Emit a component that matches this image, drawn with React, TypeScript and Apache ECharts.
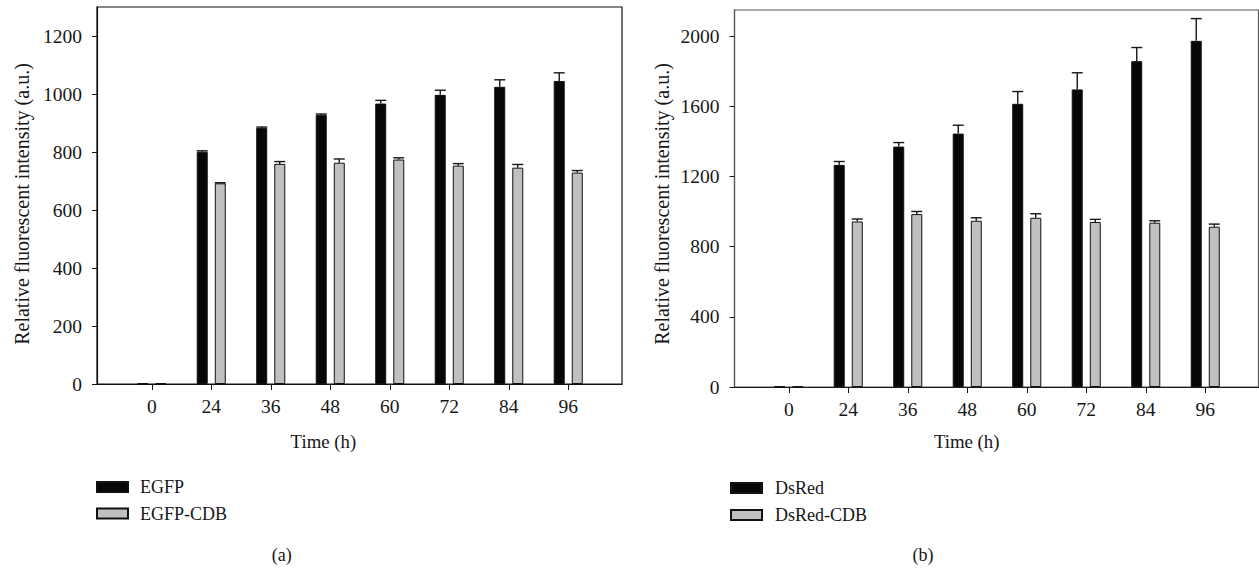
import React, { useEffect, useRef } from "react";
import * as echarts from "echarts";

const categories = ["0", "24", "36", "48", "60", "72", "84", "96"];

const egfp = [3, 801, 883, 928, 967, 997, 1025, 1045];
const egfpErr = [0, 3, 3, 3, 11, 16, 24, 28];
const egfpCdb = [3, 692, 759, 763, 774, 753, 746, 729];
const egfpCdbErr = [0, 2, 8, 13, 6, 7, 11, 7];

const dsred = [3, 1267, 1371, 1445, 1615, 1697, 1858, 1974];
const dsredErr = [0, 19, 23, 48, 70, 95, 78, 127];
const dsredCdb = [3, 944, 986, 948, 965, 941, 937, 914];
const dsredCdbErr = [0, 14, 15, 17, 23, 15, 11, 15];

const seriesNamesA = ["EGFP", "EGFP-CDB"];
const seriesNamesB = ["DsRed", "DsRed-CDB"];
const yTitle = "Relative fluorescent intensity (a.u.)";
const xTitle = "Time (h)";

const FONT = "'Liberation Serif', 'Times New Roman', serif";
const INK = "#161616";
const BLACK = "#070707";
const GRAY = "#c0c0c0";
const TICK_FONT = 19.5;

function errSeries(values: number[], errs: number[], xi: number, offset: number) {
  return {
    type: "custom",
    xAxisIndex: xi,
    yAxisIndex: xi,
    z: 5,
    silent: true,
    encode: { x: 0, y: 1 },
    data: values.map((v, i) => [i, v, errs[i]]),
    renderItem: (params: any, api: any) => {
      const idx = api.value(0);
      const v = api.value(1);
      const e = api.value(2);
      if (!(e > 0)) return null;
      const p0 = api.coord([idx, v]);
      const p1 = api.coord([idx, v + e]);
      const x = p0[0] + offset;
      const st = { stroke: INK, lineWidth: 1.4 };
      return {
        type: "group",
        children: [
          { type: "line", shape: { x1: x, y1: p0[1], x2: x, y2: p1[1] }, style: st },
          { type: "line", shape: { x1: x - 5.5, y1: p1[1], x2: x + 5.5, y2: p1[1] }, style: st },
        ],
      };
    },
  };
}

function barSeries(name: string, values: number[], xi: number, color: string) {
  return {
    type: "bar",
    name,
    xAxisIndex: xi,
    yAxisIndex: xi,
    data: values,
    barWidth: 11,
    barGap: "64%",
    itemStyle: { color, borderColor: "#111", borderWidth: 1 },
  };
}

function frameX(gridIndex: number, color: string) {
  return {
    gridIndex,
    type: "value",
    min: 0,
    max: 1,
    axisLine: { show: true, lineStyle: { color, width: 1.2 } },
    axisTick: { show: false },
    axisLabel: { show: false },
    splitLine: { show: false },
  };
}
function frameY(gridIndex: number) {
  return {
    gridIndex,
    type: "value",
    min: 0,
    max: 1,
    show: false,
  };
}

function dataX(gridIndex: number) {
  return {
    gridIndex,
    type: "category",
    data: categories,
    boundaryGap: true,
    axisLine: { show: false },
    axisTick: { show: true, alignWithLabel: true, length: 6, lineStyle: { color: INK, width: 1 } },
    axisLabel: { margin: 12, fontSize: TICK_FONT, fontFamily: FONT, color: INK },
    splitLine: { show: false },
  };
}

function dataY(gridIndex: number, max: number, interval: number, offset: number, lineColor: string) {
  return {
    gridIndex,
    type: "value",
    min: 0,
    max,
    interval,
    offset,
    axisLine: { show: true, lineStyle: { color: lineColor, width: 1.2 } },
    axisTick: { show: true, length: 5, lineStyle: { color: INK, width: 1 } },
    axisLabel: {
      margin: 15,
      fontSize: TICK_FONT,
      fontFamily: FONT,
      color: INK,
      showMaxLabel: false,
      formatter: (v: number) => String(v),
    },
    splitLine: { show: false },
  };
}

function txt(text: string, x: number, y: number, size: number, rotation = 0) {
  return {
    type: "text",
    x,
    y,
    rotation,
    silent: true,
    style: {
      text,
      fontSize: size,
      fontFamily: FONT,
      fill: INK,
      align: "center",
      verticalAlign: "middle",
      textAlign: "center",
      textVerticalAlign: "middle",
    },
  };
}

function legend(names: string[], left: number, top: number, gap: number, padLeft: number) {
  return {
    data: names,
    orient: "vertical",
    left,
    top,
    itemWidth: 31,
    itemHeight: 10,
    itemGap: gap,
    icon: "rect",
    selectedMode: false,
    textStyle: { fontSize: 18, fontFamily: FONT, color: INK, padding: [0, 0, 0, padLeft] },
  };
}

export default function App() {
  const ref = useRef<HTMLDivElement>(null);
  useEffect(() => {
    if (!ref.current) return;
    const chart = echarts.init(ref.current, null, { renderer: "svg" });
    const option: any = {
      animation: false,
      backgroundColor: "#ffffff",
      grid: [
        { left: 97, top: 7, width: 525, height: 377, show: true, borderColor: "#111", borderWidth: 1.2, backgroundColor: "transparent" },
        { left: 122, top: 7, width: 476, height: 377 },
        { left: 734.5, top: 10, width: 524, height: 377, show: true, borderColor: "#555", borderWidth: 1.2, backgroundColor: "transparent" },
        { left: 759, top: 10, width: 476, height: 377 },
      ],
      xAxis: [frameX(0, "#111"), dataX(1), frameX(2, "#1a1a1a"), dataX(3)],
      yAxis: [
        frameY(0),
        dataY(1, 1300, 200, 25, "#111"),
        frameY(2),
        dataY(3, 2150, 400, 24.5, "#555"),
      ],
      legend: [legend(seriesNamesA, 91, 473, 8.5, 7), legend(seriesNamesB, 725, 474, 9, 8)],
      series: [
        barSeries(seriesNamesA[0], egfp, 1, BLACK),
        barSeries(seriesNamesA[1], egfpCdb, 1, GRAY),
        errSeries(egfp, egfpErr, 1, -9),
        errSeries(egfpCdb, egfpCdbErr, 1, 9),
        barSeries(seriesNamesB[0], dsred, 3, BLACK),
        barSeries(seriesNamesB[1], dsredCdb, 3, GRAY),
        errSeries(dsred, dsredErr, 3, -9),
        errSeries(dsredCdb, dsredCdbErr, 3, 9),
      ],
      graphic: [
        txt(yTitle, 21.7, 204, 20, Math.PI / 2),
        txt(yTitle, 661.7, 204, 20, Math.PI / 2),
        txt(xTitle, 323.4, 441.7, 18.8),
        txt(xTitle, 966.7, 441.7, 18.8),
        txt("(a)", 281.7, 555, 18),
        txt("(b)", 923, 555, 18),
      ],
    };
    chart.setOption(option);
    return () => chart.dispose();
  }, []);
  return (
    <div
      ref={ref}
      style={{ position: "absolute", left: 0, top: 0, width: 1259, height: 568 }}
    />
  );
}
